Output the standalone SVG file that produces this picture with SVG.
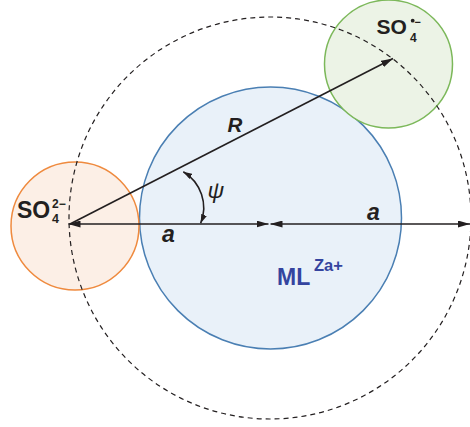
<svg xmlns="http://www.w3.org/2000/svg" width="470" height="427" viewBox="0 0 470 427">
<style>
.lbl{font-family:"Liberation Sans",Arial,sans-serif;font-weight:bold;fill:#231f20}
.it{font-style:italic}
.ln{stroke:#231f20;stroke-width:1.6;fill:none}
</style>
<defs>
<marker id="ah" viewBox="0 0 12 7" refX="12" refY="3.5" markerWidth="12" markerHeight="7" markerUnits="userSpaceOnUse" orient="auto-start-reverse">
<path d="M0,0 L12,3.5 L0,7 Z" fill="#231f20"/>
</marker>
<marker id="ahs" viewBox="0 0 9 6" refX="9" refY="3" markerWidth="9" markerHeight="6" markerUnits="userSpaceOnUse" orient="auto-start-reverse">
<path d="M0,0 L9,3 L0,6 Z" fill="#231f20"/>
</marker>
</defs>
<g id="ml">
<circle cx="270.5" cy="218" r="131" fill="#e9f1f9" stroke="#4a7fb3" stroke-width="1.5"/>
<text class="lbl" x="277" y="284.5" font-size="23" style="fill:#34449f">ML</text>
<text class="lbl" x="314" y="270.5" font-size="16.5" style="fill:#34449f">Za+</text>
</g>
<g id="so4-dianion">
<circle cx="75" cy="226" r="64" fill="#fcefe6" stroke="#ef8a3e" stroke-width="1.5"/>
<text class="lbl" x="17" y="218.3" font-size="23">SO</text>
<text class="lbl" x="52" y="208.3" font-size="12">2−</text>
<text class="lbl" x="52" y="223" font-size="12.5">4</text>
</g>
<g id="so4-radical">
<circle cx="388.5" cy="64" r="64" fill="#ecf3e6" stroke="#7cb85a" stroke-width="1.5"/>
<text class="lbl" x="376.5" y="33.5" font-size="21">SO</text>
<text class="lbl" x="410" y="41.7" font-size="12">4</text>
<circle cx="412.7" cy="20.7" r="1.9" fill="#231f20"/>
<text class="lbl" x="414.5" y="25.8" font-size="11">−</text>
</g>
<g id="outer">
<circle cx="270" cy="218" r="201" fill="none" stroke="#231f20" stroke-width="1.2" stroke-dasharray="5,4"/>
</g>
<g id="connectors">
<line class="ln" x1="70" y1="224" x2="393" y2="58.5" marker-end="url(#ah)"/>
<line class="ln" x1="68.5" y1="224" x2="268.5" y2="224" marker-start="url(#ah)" marker-end="url(#ah)"/>
<line class="ln" x1="270.5" y1="224" x2="470" y2="224" marker-start="url(#ah)" marker-end="url(#ah)"/>
<path class="ln" d="M183.3,171.7 A42,42 0 0 1 200.7,223.3" stroke-width="1.1" marker-start="url(#ahs)" marker-end="url(#ahs)"/>
</g>
<g id="labels">
<text class="lbl it" x="227.5" y="132" font-size="20.5">R</text>
<text class="lbl it" x="207.5" y="197.5" font-size="23" font-family="'DejaVu Sans',sans-serif" style="font-weight:normal">ψ</text>
<text class="lbl it" x="162" y="241.5" font-size="23">a</text>
<text class="lbl it" x="367" y="220" font-size="23">a</text>
</g>
</svg>
